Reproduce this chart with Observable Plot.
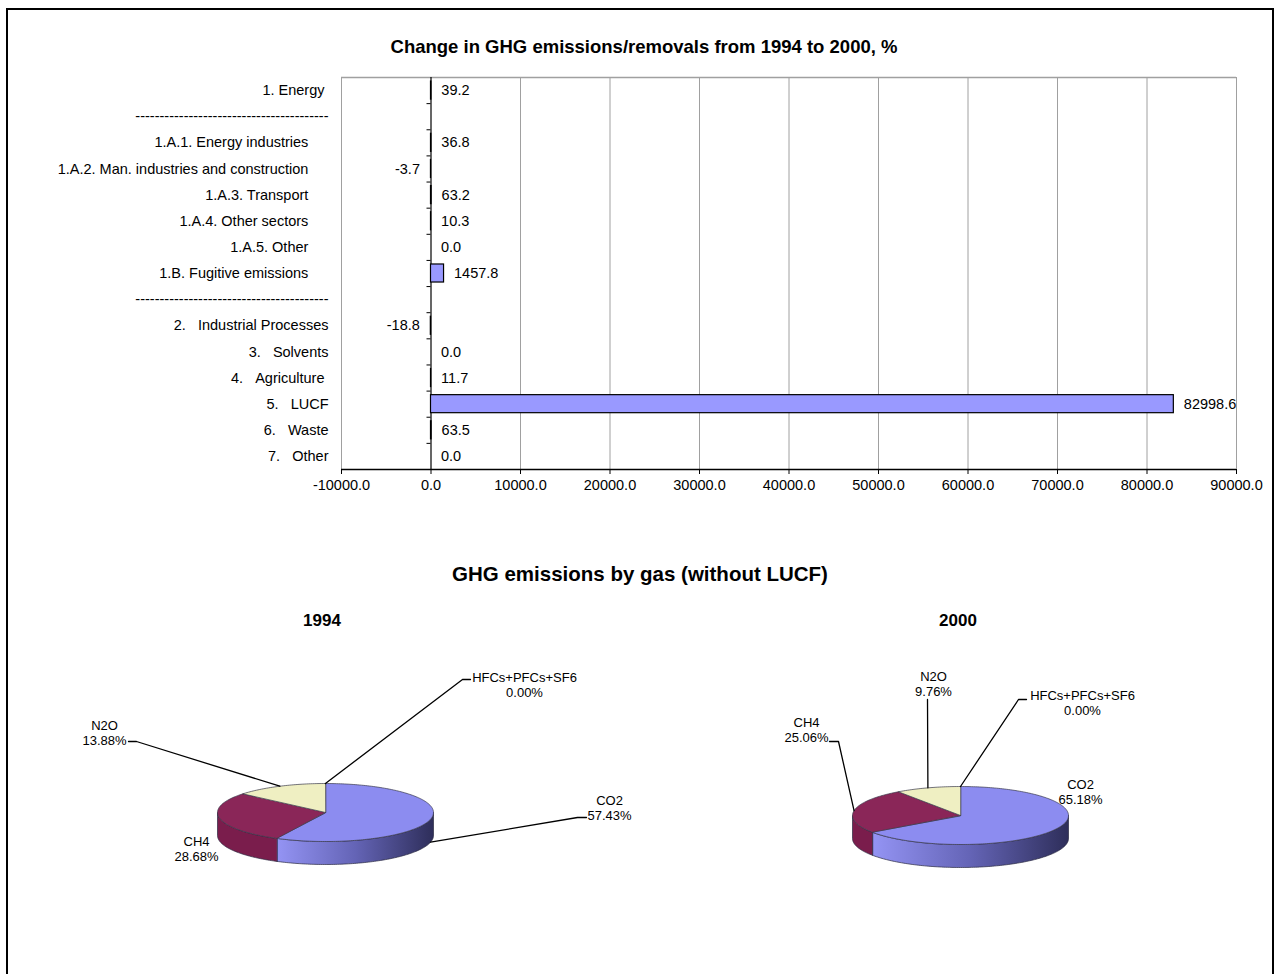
<!DOCTYPE html>
<html><head><meta charset="utf-8">
<script src="https://cdn.jsdelivr.net/npm/d3@7"></script>
<script src="https://cdn.jsdelivr.net/npm/@observablehq/plot@0.6"></script>
<style>
body{margin:0;background:#fff;font-family:"Liberation Sans",Arial,sans-serif;}
#page{position:relative;width:1280px;height:974px;overflow:hidden;background:#fff}
#border{position:absolute;left:6px;top:8px;width:1268px;height:1000px;border:2px solid #000;box-sizing:border-box}
.title{position:absolute;font-weight:bold;color:#000;white-space:nowrap;line-height:1;transform:translate(-50%,-50%)}
.abs{position:absolute}
</style></head><body>
<div id="page">
 <div id="border"></div>
 <div class="title" style="left:644px;top:47px;font-size:18.5px">Change in GHG emissions/removals from 1994 to 2000, %</div>
 <div id="bars" class="abs" style="left:0;top:60px"></div>
 <div class="title" style="left:640px;top:574px;font-size:20.5px">GHG emissions by gas (without LUCF)</div>
 <div class="title" style="left:322px;top:620px;font-size:17px">1994</div>
 <div class="title" style="left:958px;top:620px;font-size:17px">2000</div>
 <div id="pies" class="abs" style="left:0;top:640px"></div>
</div>
<script>
// ---------- data ----------
const NB = n => "\u00a0".repeat(n);
const SEP = "-".repeat(40);
const categories = [
  "1. Energy" + NB(1),
  SEP,
  "1.A.1. Energy industries" + NB(5),
  "1.A.2. Man. industries and construction" + NB(5),
  "1.A.3. Transport" + NB(5),
  "1.A.4. Other sectors" + NB(5),
  "1.A.5. Other" + NB(5),
  "1.B. Fugitive emissions" + NB(5),
  SEP,
  "2." + NB(3) + "Industrial Processes",
  "3." + NB(3) + "Solvents",
  "4." + NB(3) + "Agriculture" + NB(1),
  "5." + NB(3) + "LUCF",
  "6." + NB(3) + "Waste",
  "7." + NB(3) + "Other"
];
const changes = [39.2, null, 36.8, -3.7, 63.2, 10.3, 0.0, 1457.8, null, -18.8, 0.0, 11.7, 82998.6, 63.5, 0.0];
const xTicks = [-10000, 0, 10000, 20000, 30000, 40000, 50000, 60000, 70000, 80000, 90000];

const gases = ["CO2", "CH4", "N2O", "HFCs+PFCs+SF6"];
const share1994 = [57.43, 28.68, 13.88, 0.00];
const share2000 = [65.18, 25.06, 9.76, 0.00];

// ---------- styles / layout ----------
const FONT = "'Liberation Sans', Arial, sans-serif";
const topColors = {"CO2": "#8c8cf0", "CH4": "#8a2658", "N2O": "#efefc2", "HFCs+PFCs+SF6": "#5050a0"};
const sideColors = {"CO2": "url(#co2side)", "CH4": "#7a1d4c", "N2O": "#cfcf9f", "HFCs+PFCs+SF6": "#404080"};
const pieLayout = [
  {year: 1994, values: share1994, cx: 325, cy: 812},
  {year: 2000, values: share2000, cx: 960, cy: 815}
];
const RX = 108, RY = 29, DEPTH = 23;
const labelLayout = {
  1994: {
    "CO2": {x: 609, y: 807, leader: [[577, 817], [586, 817]]},
    "CH4": {x: 196, y: 848.5, leader: null},
    "N2O": {x: 104, y: 732.5, leader: [[136, 741], [128, 741]]},
    "HFCs+PFCs+SF6": {x: 524, y: 684, leader: [[462, 679], [470, 679]]}
  },
  2000: {
    "CO2": {x: 1080, y: 791, leader: null},
    "CH4": {x: 806, y: 729.5, leader: [[838, 741], [829, 741]]},
    "N2O": {x: 933, y: 683.5, leader: [[927, 699]]},
    "HFCs+PFCs+SF6": {x: 1082, y: 702.5, leader: [[1018, 699], [1026, 699]]}
  }
};

// ---------- bar chart ----------
const rows = categories.map((label, i) => ({label, value: changes[i], i}));
const valued = rows.filter(d => d.value != null);
const W = 1280, H = 450, ML = 341, MR = 44, MT = 17, MB = 41;
const tickLen = 4 * (xTicks[xTicks.length - 1] - xTicks[0]) / (W - ML - MR);
const pad = 0.155;

const bars = Plot.plot({
  width: W, height: H,
  marginLeft: ML, marginRight: MR, marginTop: MT, marginBottom: MB,
  style: {fontFamily: FONT, fontSize: "14.5px", color: "#000", background: "transparent", overflow: "visible"},
  x: {domain: [xTicks[0], xTicks[xTicks.length - 1]], ticks: 10, tickFormat: d => d.toFixed(1), tickSize: 5, tickPadding: 5, label: null},
  y: {domain: [0, categories.length], range: [MT, H - MB], axis: null},
  marks: [
    Plot.ruleX(xTicks.filter(t => t !== 0), {stroke: "#a0a0a0", strokeWidth: 1}),
    Plot.ruleY([0], {stroke: "#a0a0a0", strokeWidth: 1.5}),
    Plot.ruleX([0], {stroke: "#000", strokeWidth: 1.2}),
    Plot.ruleY(d3.range(1, categories.length), {x1: -tickLen, x2: 0, stroke: "#000", strokeWidth: 1}),
    Plot.ruleY([categories.length], {stroke: "#000", strokeWidth: 1.6}),
    Plot.rect(valued, {x1: 0, x2: "value", y1: d => d.i + pad, y2: d => d.i + 1 - pad, fill: "#9999ff", stroke: "#000", strokeWidth: 1.2}),
    Plot.text(rows, {y: d => d.i + 0.5, text: "label", frameAnchor: "left", textAnchor: "end", dx: -13, fill: "#000"}),
    Plot.text(valued.filter(d => d.value >= 0), {x: "value", y: d => d.i + 0.5, text: d => d.value.toFixed(1), textAnchor: "start", dx: 10, fill: "#000"}),
    Plot.text(valued.filter(d => d.value < 0), {x: "value", y: d => d.i + 0.5, text: d => d.value.toFixed(1), textAnchor: "end", dx: -11, fill: "#000"})
  ]
});
document.getElementById("bars").appendChild(bars);

// ---------- 3D pies ----------
const sideRows = [], topRows = [], leaderRows = [], labelRows = [];
function pt(p, t, dz) { return {x: p.cx + RX * Math.sin(t), y: p.cy - RY * Math.cos(t) + dz}; }
function arc(p, t0, t1, dz) {
  const n = Math.max(2, Math.ceil(Math.abs(t1 - t0) / 0.02) + 1);
  return d3.range(n).map(j => pt(p, t0 + (t1 - t0) * j / (n - 1), dz));
}
for (const p of pieLayout) {
  let cum = 0;
  p.values.forEach((v, k) => {
    const gas = gases[k];
    const a0 = cum / 100 * 2 * Math.PI; cum += v;
    const a1 = cum / 100 * 2 * Math.PI;
    const key = p.year + "-" + gas;
    if (v > 0) {
      const lo = Math.max(a0, Math.PI / 2), hi = Math.min(a1, 3 * Math.PI / 2);
      if (hi > lo) {
        [...arc(p, lo, hi, 0), ...arc(p, hi, lo, DEPTH)].forEach(q => sideRows.push({...q, key: key + "-side", fill: sideColors[gas]}));
      }
      [{x: p.cx, y: p.cy}, ...arc(p, a0, a1, 0)].forEach(q => topRows.push({...q, key: key + "-top", fill: topColors[gas]}));
    }
    const L = labelLayout[p.year][gas];
    const m = (a0 + a1) / 2;
    if (L.leader) {
      const start = pt(p, m, Math.cos(m) < 0 ? DEPTH : 0);
      [start, ...L.leader.map(([x, y]) => ({x, y}))].forEach(q => leaderRows.push({...q, key}));
    }
    labelRows.push({x: L.x, y: L.y, text: gas + "\n" + v.toFixed(2) + "%"});
  });
}

const pies = Plot.plot({
  width: 1280, height: 334, margin: 0,
  style: {fontFamily: FONT, fontSize: "13px", color: "#000", background: "transparent", overflow: "visible"},
  x: {domain: [0, 1280], range: [0, 1280], axis: null},
  y: {domain: [640, 974], range: [0, 334], axis: null},
  color: {type: "identity"},
  marks: [
    Plot.line(sideRows, {x: "x", y: "y", z: "key", fill: "fill", stroke: "#2a2a40", strokeWidth: 0.7, curve: "linear-closed"}),
    Plot.line(topRows, {x: "x", y: "y", z: "key", fill: "fill", stroke: "#3a3a4a", strokeWidth: 0.7, curve: "linear-closed"}),
    Plot.line(leaderRows, {x: "x", y: "y", z: "key", stroke: "#000", strokeWidth: 1.3}),
    Plot.text(labelRows, {x: "x", y: "y", text: "text", lineHeight: 1.15, fill: "#000"})
  ]
});
const defs = d3.select(pies).insert("defs", ":first-child");
const g = defs.append("linearGradient").attr("id", "co2side").attr("x1", 0).attr("x2", 1).attr("y1", 0).attr("y2", 0);
g.append("stop").attr("offset", 0).attr("stop-color", "#9494f4");
g.append("stop").attr("offset", 0.5).attr("stop-color", "#6464b6");
g.append("stop").attr("offset", 1).attr("stop-color", "#2e2e5a");
document.getElementById("pies").appendChild(pies);
</script>
</body></html>
